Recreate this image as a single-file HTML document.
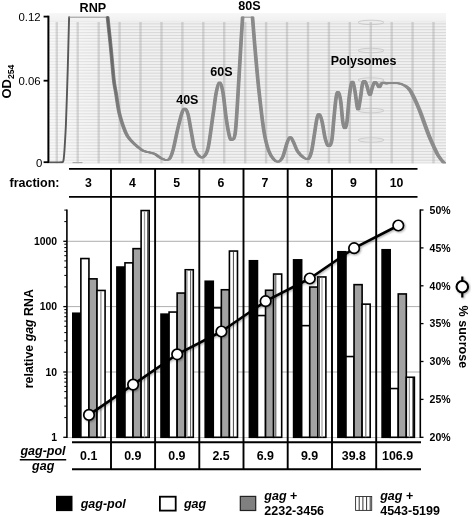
<!DOCTYPE html>
<html><head><meta charset="utf-8"><title>Polysome profile</title>
<style>html,body{margin:0;padding:0;background:#fff}svg{display:block}text{font-family:"Liberation Sans",Arial,Helvetica,sans-serif}</style>
</head><body>
<svg width="472" height="517" viewBox="0 0 472 517">
<defs>
<linearGradient id="topfade" x1="0" y1="0" x2="0" y2="1"><stop offset="0" stop-color="#f7f7f7"/><stop offset="0.8" stop-color="#f1f1f1"/><stop offset="1" stop-color="#e6e6e6"/></linearGradient>
<filter id="sh" x="-20%" y="-20%" width="140%" height="140%"><feGaussianBlur in="SourceAlpha" stdDeviation="1"/><feOffset dx="0.8" dy="1.2"/><feComponentTransfer><feFuncA type="linear" slope="0.35"/></feComponentTransfer><feMerge><feMergeNode/><feMergeNode in="SourceGraphic"/></feMerge></filter>
<linearGradient id="dk" gradientUnits="userSpaceOnUse" x1="0" y1="17" x2="0" y2="135"><stop offset="0" stop-color="#555" stop-opacity="0.75"/><stop offset="0.6" stop-color="#555" stop-opacity="0.45"/><stop offset="1" stop-color="#555" stop-opacity="0"/></linearGradient>
<linearGradient id="lf" x1="0" y1="0" x2="1" y2="0"><stop offset="0" stop-color="#fff" stop-opacity="0.45"/><stop offset="1" stop-color="#fff" stop-opacity="0"/></linearGradient>
<filter id="bl"><feGaussianBlur stdDeviation="0.5"/></filter><filter id="bl2"><feGaussianBlur stdDeviation="0.55 0"/></filter>
<clipPath id="pc"><rect x="49.3" y="13.0" width="396.7" height="150.6"/></clipPath>
</defs>
<rect width="472" height="517" fill="#fff"/>
<g clip-path="url(#pc)">
<rect x="49.3" y="13.0" width="396.7" height="150.6" fill="#f1f1f1"/>
<g fill="#d9d9d9">
<rect x="49.3" y="162.53" width="396.7" height="1.1"/>
<rect x="49.3" y="159.63" width="396.7" height="1.1"/>
<rect x="49.3" y="156.73" width="396.7" height="1.1"/>
<rect x="49.3" y="153.83" width="396.7" height="1.1"/>
<rect x="49.3" y="150.93" width="396.7" height="1.1"/>
<rect x="49.3" y="148.03" width="396.7" height="1.1"/>
<rect x="49.3" y="145.13" width="396.7" height="1.1"/>
<rect x="49.3" y="142.23" width="396.7" height="1.1"/>
<rect x="49.3" y="139.33" width="396.7" height="1.1"/>
<rect x="49.3" y="136.43" width="396.7" height="1.1"/>
<rect x="49.3" y="133.53" width="396.7" height="1.1"/>
<rect x="49.3" y="130.63" width="396.7" height="1.1"/>
<rect x="49.3" y="127.73" width="396.7" height="1.1"/>
<rect x="49.3" y="124.83" width="396.7" height="1.1"/>
<rect x="49.3" y="121.93" width="396.7" height="1.1"/>
<rect x="49.3" y="119.03" width="396.7" height="1.1"/>
<rect x="49.3" y="116.13" width="396.7" height="1.1"/>
<rect x="49.3" y="113.23" width="396.7" height="1.1"/>
<rect x="49.3" y="110.33" width="396.7" height="1.1"/>
<rect x="49.3" y="107.43" width="396.7" height="1.1"/>
<rect x="49.3" y="104.53" width="396.7" height="1.1"/>
<rect x="49.3" y="101.63" width="396.7" height="1.1"/>
<rect x="49.3" y="98.73" width="396.7" height="1.1"/>
<rect x="49.3" y="95.83" width="396.7" height="1.1"/>
<rect x="49.3" y="92.93" width="396.7" height="1.1"/>
<rect x="49.3" y="90.03" width="396.7" height="1.1"/>
<rect x="49.3" y="87.13" width="396.7" height="1.1"/>
<rect x="49.3" y="84.23" width="396.7" height="1.1"/>
<rect x="49.3" y="81.33" width="396.7" height="1.1"/>
<rect x="49.3" y="78.43" width="396.7" height="1.1"/>
<rect x="49.3" y="75.53" width="396.7" height="1.1"/>
<rect x="49.3" y="72.63" width="396.7" height="1.1"/>
<rect x="49.3" y="69.73" width="396.7" height="1.1"/>
<rect x="49.3" y="66.83" width="396.7" height="1.1"/>
<rect x="49.3" y="63.93" width="396.7" height="1.1"/>
<rect x="49.3" y="61.03" width="396.7" height="1.1"/>
<rect x="49.3" y="58.13" width="396.7" height="1.1"/>
<rect x="49.3" y="55.23" width="396.7" height="1.1"/>
<rect x="49.3" y="52.33" width="396.7" height="1.1"/>
<rect x="49.3" y="49.43" width="396.7" height="1.1"/>
<rect x="49.3" y="46.53" width="396.7" height="1.1"/>
<rect x="49.3" y="43.63" width="396.7" height="1.1"/>
<rect x="49.3" y="40.73" width="396.7" height="1.1"/>
<rect x="49.3" y="37.83" width="396.7" height="1.1"/>
<rect x="49.3" y="34.93" width="396.7" height="1.1"/>
<rect x="49.3" y="32.03" width="396.7" height="1.1"/>
<rect x="49.3" y="29.13" width="396.7" height="1.1"/>
<rect x="49.3" y="26.23" width="396.7" height="1.1"/>
<rect x="49.3" y="23.33" width="396.7" height="1.1"/>
<rect x="49.3" y="20.43" width="396.7" height="1.1"/>
</g>
<rect x="49.3" y="13.0" width="396.7" height="9.3" fill="url(#topfade)"/>
<rect x="49.3" y="22" width="75" height="141.6" fill="url(#lf)"/>
<g filter="url(#bl2)">
<rect x="55.6" y="22" width="2.4" height="141.6" fill="#a0a0a0" opacity="0.38"/>
<rect x="76.5" y="22" width="2.4" height="141.6" fill="#a0a0a0" opacity="0.38"/>
<rect x="97.5" y="22" width="2.4" height="141.6" fill="#a0a0a0" opacity="0.38"/>
<rect x="118.4" y="22" width="2.4" height="141.6" fill="#a0a0a0" opacity="0.38"/>
<rect x="139.3" y="22" width="2.4" height="141.6" fill="#a0a0a0" opacity="0.38"/>
<rect x="160.3" y="22" width="2.4" height="141.6" fill="#a0a0a0" opacity="0.38"/>
<rect x="181.2" y="22" width="2.4" height="141.6" fill="#a0a0a0" opacity="0.38"/>
<rect x="202.1" y="22" width="2.4" height="141.6" fill="#a0a0a0" opacity="0.38"/>
<rect x="223.0" y="22" width="2.4" height="141.6" fill="#a0a0a0" opacity="0.38"/>
<rect x="244.0" y="22" width="2.4" height="141.6" fill="#a0a0a0" opacity="0.38"/>
<rect x="264.9" y="22" width="2.4" height="141.6" fill="#a0a0a0" opacity="0.38"/>
<rect x="285.8" y="22" width="2.4" height="141.6" fill="#a0a0a0" opacity="0.38"/>
<rect x="306.8" y="22" width="2.4" height="141.6" fill="#a0a0a0" opacity="0.38"/>
<rect x="327.7" y="22" width="2.4" height="141.6" fill="#a0a0a0" opacity="0.38"/>
<rect x="348.6" y="22" width="2.4" height="141.6" fill="#a0a0a0" opacity="0.38"/>
<rect x="369.6" y="22" width="2.4" height="141.6" fill="#a0a0a0" opacity="0.38"/>
<rect x="390.5" y="22" width="2.4" height="141.6" fill="#a0a0a0" opacity="0.38"/>
<rect x="411.4" y="22" width="2.4" height="141.6" fill="#a0a0a0" opacity="0.38"/>
<rect x="432.3" y="22" width="2.4" height="141.6" fill="#a0a0a0" opacity="0.38"/>
</g>
<ellipse cx="371" cy="22.4" rx="13" ry="2.2" fill="none" stroke="#c4c4c4" stroke-width="0.8"/>
<ellipse cx="371" cy="50.5" rx="13" ry="2.2" fill="none" stroke="#c4c4c4" stroke-width="0.8"/>
<ellipse cx="371" cy="80.0" rx="13" ry="2.2" fill="none" stroke="#c4c4c4" stroke-width="0.8"/>
<ellipse cx="371" cy="110.6" rx="13" ry="2.2" fill="none" stroke="#c4c4c4" stroke-width="0.8"/>
<ellipse cx="371" cy="140.0" rx="13" ry="2.2" fill="none" stroke="#c4c4c4" stroke-width="0.8"/>
<g fill="none" stroke-linejoin="round" stroke-linecap="round" filter="url(#bl)">
<path d="M49.5 162.4 C50.6 162.4 54.0 162.4 56.0 162.4 C58.0 162.4 60.6 162.5 61.8 162.3 C63.0 162.1 62.9 162.3 63.2 161.4 C63.6 160.5 63.6 159.7 63.9 157.0 C64.2 154.3 64.5 150.3 64.8 145.0 C65.1 139.7 65.5 134.2 65.9 125.0 C66.3 115.8 66.7 102.2 67.1 90.0 C67.5 77.8 67.9 64.1 68.2 52.0 C68.5 39.9 68.9 23.0 69.1 17.2" stroke="#585858" stroke-width="1.9"/>
<path d="M69.1 17.2 L107.6 17.2" stroke="#8a8a8a" stroke-width="0.9"/>
<path d="M73 162.7 H82" stroke="#a8a8a8" stroke-width="1.2"/>
<path id="t2" d="M107.6 17.2 C107.9 20.2 108.8 28.7 109.5 35.0 C110.2 41.3 110.8 47.5 111.5 55.0 C112.2 62.5 113.1 73.7 113.8 80.0 C114.5 86.3 115.0 87.4 115.9 92.7 C116.8 98.0 117.8 106.2 119.0 111.8 C120.2 117.4 121.9 122.5 123.3 126.6 C124.7 130.7 125.7 133.3 127.5 136.1 C129.3 138.9 131.4 141.2 133.9 143.6 C136.4 146.0 139.8 148.8 142.4 150.3 C145.1 151.8 147.7 151.8 149.8 152.5 C151.9 153.2 153.2 153.2 155.1 154.2 C157.0 155.2 159.5 157.4 161.4 158.4 C163.3 159.4 165.3 160.1 166.7 160.1 C168.1 160.1 168.8 160.1 169.9 158.4 C171.0 156.7 171.9 154.5 173.1 149.9 C174.3 145.3 175.9 136.8 177.3 130.8 C178.7 124.8 180.4 117.6 181.6 113.9 C182.8 110.2 183.6 108.6 184.7 108.6 C185.8 108.6 186.8 110.2 187.9 113.9 C189.0 117.6 190.0 125.2 191.1 130.8 C192.2 136.5 193.1 143.7 194.3 147.8 C195.6 151.9 197.1 154.0 198.6 155.6 C200.1 157.2 201.6 158.5 203.2 157.2 C204.8 155.9 206.5 155.0 208.1 148.0 C209.7 141.0 211.6 124.4 213.0 115.1 C214.4 105.8 215.2 97.6 216.3 92.1 C217.4 86.6 218.5 82.2 219.6 82.2 C220.7 82.2 221.8 86.1 222.9 92.1 C224.0 98.1 225.1 111.0 226.2 118.4 C227.3 125.8 228.5 132.9 229.5 136.5 C230.5 140.1 231.1 140.6 232.1 139.8 C233.1 139.0 234.3 141.2 235.4 131.6 C236.5 122.0 237.8 97.0 238.7 82.2 C239.6 67.4 240.3 53.6 241.0 42.8 C241.7 32.0 242.3 21.5 242.6 17.2"/>
<path id="t3" d="M252.5 17.2 C252.9 22.5 254.0 36.8 255.1 49.3 C256.2 61.8 257.6 78.4 259.1 92.1 C260.6 105.8 262.4 121.7 264.0 131.6 C265.6 141.5 267.2 146.7 268.9 151.3 C270.5 156.0 272.3 157.8 273.9 159.5 C275.5 161.2 277.1 162.1 278.6 161.7 C280.1 161.2 281.4 159.9 282.8 156.8 C284.2 153.7 285.8 146.3 287.0 143.0 C288.2 139.7 289.1 137.2 290.2 137.0 C291.3 136.8 292.1 139.5 293.4 141.9 C294.6 144.3 295.9 148.8 297.7 151.5 C299.5 154.2 302.2 156.7 304.0 157.9 C305.8 159.1 307.1 160.0 308.3 158.9 C309.6 157.8 310.4 155.9 311.5 151.5 C312.6 147.1 313.8 138.0 314.7 132.3 C315.6 126.6 316.4 120.4 317.2 117.4 C318.0 114.4 318.6 113.6 319.4 114.3 C320.2 115.0 321.1 117.6 322.1 121.7 C323.1 125.8 324.2 134.6 325.3 138.7 C326.4 142.8 327.4 145.8 328.5 146.2 C329.6 146.6 330.8 145.3 331.7 140.9 C332.6 136.5 333.1 126.7 333.8 119.6 C334.5 112.5 335.3 102.9 336.0 98.3 C336.7 93.7 337.3 91.6 338.1 91.9 C338.9 92.2 339.8 95.4 340.6 100.4 C341.4 105.4 342.1 117.0 342.8 121.7 C343.5 126.4 344.2 128.5 344.9 128.5 C345.6 128.5 346.3 126.7 347.0 121.7 C347.7 116.7 348.4 104.6 349.1 98.3 C349.8 92.0 350.7 86.5 351.3 83.8 C351.9 81.1 352.4 80.9 353.0 82.3 C353.6 83.7 354.4 87.8 355.1 91.9 C355.8 96.0 356.6 104.0 357.2 106.8 C357.8 109.6 358.0 110.3 358.5 108.9 C359.0 107.5 359.7 102.5 360.4 98.3 C361.1 94.0 361.9 86.3 362.6 83.4 C363.3 80.5 364.0 80.6 364.7 80.9 C365.4 81.2 365.9 83.1 366.8 85.5 C367.7 87.9 368.9 94.8 369.8 95.1 C370.7 95.4 371.5 89.6 372.3 87.4 C373.1 85.2 374.0 82.3 374.8 81.8 C375.6 81.3 376.4 83.4 377.2 84.3 C378.0 85.2 378.7 87.6 379.4 87.4 C380.1 87.2 380.8 84.1 381.6 83.3 C382.4 82.5 383.2 82.4 384.0 82.4 C384.8 82.5 385.7 83.5 386.5 83.6 C387.3 83.7 387.6 83.1 388.7 83.0 C389.8 82.9 391.5 82.9 393.3 83.0 C395.1 83.1 397.4 83.1 399.5 83.6 C401.6 84.1 403.9 85.0 405.7 86.2 C407.5 87.4 408.8 88.5 410.4 90.8 C411.9 93.1 413.4 96.5 415.0 99.8 C416.6 103.1 418.1 106.7 419.7 110.6 C421.2 114.5 422.8 118.9 424.3 123.0 C425.8 127.1 427.3 131.5 428.9 135.4 C430.4 139.3 432.1 142.8 433.6 146.2 C435.2 149.5 436.6 152.9 438.2 155.5 C439.8 158.1 441.7 160.3 442.9 161.7 C444.1 163.1 445.0 163.5 445.4 163.9"/>
<clipPath id="cA"><rect x="100" y="10" width="62" height="160"/></clipPath>
<clipPath id="cB"><rect x="162" y="10" width="241" height="160"/></clipPath>
<clipPath id="cC"><rect x="403" y="10" width="50" height="160"/></clipPath>
<g stroke="#878787" stroke-width="1.45" clip-path="url(#cA)">
<use href="#t2" x="-1.2"/>
<use href="#t2" x="-0.6"/>
<use href="#t2" x="0.0"/>
<use href="#t2" x="0.6"/>
<use href="#t2" x="1.2"/>
</g>
<g stroke="#8a8a8a" stroke-width="1.5" clip-path="url(#cB)">
<use href="#t2" x="-1.10"/><use href="#t3" x="-1.10"/>
<use href="#t2" x="-0.55"/><use href="#t3" x="-0.55"/>
<use href="#t2" x="0.00"/><use href="#t3" x="0.00"/>
<use href="#t2" x="0.55"/><use href="#t3" x="0.55"/>
<use href="#t2" x="1.10"/><use href="#t3" x="1.10"/>
</g>
<g stroke="#8c8c8c" stroke-width="1.4" clip-path="url(#cC)">
<use href="#t3" x="-1.40"/>
<use href="#t3" x="-0.70"/>
<use href="#t3" x="0.00"/>
<use href="#t3" x="0.70"/>
<use href="#t3" x="1.40"/>
</g>
<path d="M242.6 17.2 L252.5 17.2" stroke="#8a8a8a" stroke-width="1"/>
<path d="M107.6 17.2 C107.9 20.2 108.8 28.7 109.5 35.0 C110.2 41.3 110.8 47.5 111.5 55.0 C112.2 62.5 113.1 73.7 113.8 80.0 C114.5 86.3 115.0 87.4 115.9 92.7 C116.8 98.0 117.8 106.2 119.0 111.8 C120.2 117.4 121.9 122.5 123.3 126.6 C124.7 130.7 125.7 133.3 127.5 136.1 C129.3 138.9 132.8 142.3 133.9 143.6" stroke="url(#dk)" stroke-width="2.6"/>
</g>
</g>
<g stroke="#000" stroke-width="2" fill="none">
<path d="M48.4 15.7 V163.1"/>
<path d="M43.6 16.6 H48.4" stroke-width="1.8"/>
<path d="M43.6 80.7 H48.4" stroke-width="1.8"/>
<path d="M43.6 162.2 H48.4" stroke-width="1.8"/>
</g>
<g font-size="11.4" text-anchor="end" fill="#000">
<text x="40.6" y="21.3">0.12</text>
<text x="40.6" y="85.4">0.06</text>
<text x="42.4" y="166.7">0</text>
</g>
<text transform="translate(10.6,98.6) rotate(-90)" font-size="13" font-weight="bold">OD<tspan font-size="8.7" dy="3">254</tspan></text>
<g font-size="12.5" font-weight="bold" fill="#000">
<text x="79.6" y="11.7" font-size="12.6">RNP</text>
<text x="238.2" y="10.2" font-size="12.6">80S</text>
<text x="176.2" y="103.5">40S</text>
<text x="210.3" y="76.4">60S</text>
<text x="330.7" y="64.8" font-size="12.45">Polysomes</text>
</g>
<g stroke="#000" stroke-width="1.8" fill="none">
<path d="M69 168.9 H417.5"/>
<path d="M69 196.9 H417.5"/>
</g>
<text x="9.5" y="187.4" font-size="12.5" font-weight="bold">fraction:</text>
<g font-size="12.3" font-weight="bold" text-anchor="middle">
<text x="88.4" y="187.2">3</text>
<text x="132.5" y="187.2">4</text>
<text x="176.6" y="187.2">5</text>
<text x="220.8" y="187.2">6</text>
<text x="265.0" y="187.2">7</text>
<text x="309.2" y="187.2">8</text>
<text x="353.5" y="187.2">9</text>
<text x="396.5" y="187.2">10</text>
</g>
<g stroke="#9a9a9a" stroke-width="0.8">
<path d="M66.9 372.0 H420.3"/>
<path d="M66.9 306.6 H420.3"/>
<path d="M66.9 241.3 H420.3"/>
<path d="M66.9 437.5 H420.3" stroke="#b0b0b0"/>
</g>
<g stroke="#000" stroke-width="1.6">
<rect x="72.80" y="313.25" width="8.07" height="124.05" fill="#000"/>
<rect x="80.87" y="258.55" width="8.07" height="178.75" fill="#fff"/>
<rect x="88.94" y="278.85" width="8.07" height="158.45" fill="#a2a2a2"/>
<rect x="97.01" y="290.45" width="8.07" height="146.85" fill="#fff"/>
<path d="M100.91 291.25 V437.30" stroke="#888" stroke-width="1.2"/>
<rect x="116.90" y="267.05" width="8.07" height="170.25" fill="#000"/>
<rect x="124.97" y="262.85" width="8.07" height="174.45" fill="#fff"/>
<rect x="133.04" y="248.65" width="8.07" height="188.65" fill="#a2a2a2"/>
<rect x="141.11" y="210.55" width="8.07" height="226.75" fill="#fff"/>
<path d="M144.51 211.35 V437.30" stroke="#999" stroke-width="1.3"/>
<path d="M147.96 211.35 V437.30" stroke="#3a3a3a" stroke-width="1.5"/>
<rect x="161.00" y="314.15" width="8.07" height="123.15" fill="#000"/>
<rect x="169.07" y="312.05" width="8.07" height="125.25" fill="#fff"/>
<rect x="177.14" y="293.05" width="8.07" height="144.25" fill="#a2a2a2"/>
<rect x="185.21" y="269.75" width="8.07" height="167.55" fill="#fff"/>
<path d="M186.81 270.55 V437.30" stroke="#999" stroke-width="1.6"/>
<path d="M190.61 270.55 V437.30" stroke="#444" stroke-width="0.9"/>
<rect x="205.20" y="281.25" width="8.07" height="156.05" fill="#000"/>
<rect x="213.27" y="307.85" width="8.07" height="129.45" fill="#fff"/>
<rect x="221.34" y="289.75" width="8.07" height="147.55" fill="#a2a2a2"/>
<rect x="229.41" y="251.05" width="8.07" height="186.25" fill="#fff"/>
<path d="M233.41 251.85 V437.30" stroke="#333" stroke-width="0.9"/>
<rect x="249.40" y="260.75" width="8.07" height="176.55" fill="#000"/>
<rect x="257.47" y="315.55" width="8.07" height="121.75" fill="#fff"/>
<rect x="265.54" y="290.25" width="8.07" height="147.05" fill="#a2a2a2"/>
<rect x="273.61" y="274.05" width="8.07" height="163.25" fill="#fff"/>
<path d="M275.81 274.85 V437.30" stroke="#333" stroke-width="0.9"/>
<rect x="293.60" y="259.85" width="8.07" height="177.45" fill="#000"/>
<rect x="301.67" y="325.65" width="8.07" height="111.65" fill="#fff"/>
<rect x="309.74" y="287.05" width="8.07" height="150.25" fill="#a2a2a2"/>
<rect x="317.81" y="276.95" width="8.07" height="160.35" fill="#fff"/>
<path d="M319.21 277.75 V437.30" stroke="#555" stroke-width="1.5"/>
<path d="M322.01 277.75 V437.30" stroke="#aaa" stroke-width="1.3"/>
<rect x="337.90" y="251.75" width="8.07" height="185.55" fill="#000"/>
<rect x="345.97" y="356.55" width="8.07" height="80.75" fill="#fff"/>
<rect x="354.04" y="284.65" width="8.07" height="152.65" fill="#a2a2a2"/>
<rect x="362.11" y="304.15" width="8.07" height="133.15" fill="#fff"/>
<path d="M365.81 304.95 V437.30" stroke="#777" stroke-width="1.2"/>
<rect x="382.10" y="249.75" width="8.07" height="187.55" fill="#000"/>
<rect x="390.17" y="388.55" width="8.07" height="48.75" fill="#fff"/>
<rect x="398.24" y="293.95" width="8.07" height="143.35" fill="#a2a2a2"/>
<rect x="406.31" y="377.25" width="8.07" height="60.05" fill="#fff"/>
<path d="M409.31 378.05 V437.30" stroke="#999" stroke-width="1.2"/>
<path d="M413.21 378.05 V437.30" stroke="#111" stroke-width="1.5"/>
</g>
<g stroke="#000" stroke-width="1.9" fill="none">
<path d="M111.0 168 V470"/>
<path d="M155.1 168 V470"/>
<path d="M199.3 168 V470"/>
<path d="M243.5 168 V470"/>
<path d="M287.7 168 V470"/>
<path d="M332.0 168 V470"/>
<path d="M376.2 168 V470"/>
</g>
<g stroke="#000" fill="none">
<path d="M66.9 209.4 V438.0" stroke-width="1.6"/>
<path d="M63.3 437.3 H66.9" stroke-width="1.3"/>
<path d="M64.3 417.6 H66.9" stroke-width="1"/>
<path d="M64.3 406.1 H66.9" stroke-width="1"/>
<path d="M64.3 398.0 H66.9" stroke-width="1"/>
<path d="M64.3 391.6 H66.9" stroke-width="1"/>
<path d="M64.3 386.4 H66.9" stroke-width="1"/>
<path d="M64.3 382.1 H66.9" stroke-width="1"/>
<path d="M64.3 378.3 H66.9" stroke-width="1"/>
<path d="M64.3 374.9 H66.9" stroke-width="1"/>
<path d="M63.3 372.0 H66.9" stroke-width="1.3"/>
<path d="M64.3 352.3 H66.9" stroke-width="1"/>
<path d="M64.3 340.8 H66.9" stroke-width="1"/>
<path d="M64.3 332.6 H66.9" stroke-width="1"/>
<path d="M64.3 326.3 H66.9" stroke-width="1"/>
<path d="M64.3 321.1 H66.9" stroke-width="1"/>
<path d="M64.3 316.7 H66.9" stroke-width="1"/>
<path d="M64.3 312.9 H66.9" stroke-width="1"/>
<path d="M64.3 309.6 H66.9" stroke-width="1"/>
<path d="M63.3 306.6 H66.9" stroke-width="1.3"/>
<path d="M64.3 286.9 H66.9" stroke-width="1"/>
<path d="M64.3 275.4 H66.9" stroke-width="1"/>
<path d="M64.3 267.3 H66.9" stroke-width="1"/>
<path d="M64.3 260.9 H66.9" stroke-width="1"/>
<path d="M64.3 255.7 H66.9" stroke-width="1"/>
<path d="M64.3 251.4 H66.9" stroke-width="1"/>
<path d="M64.3 247.6 H66.9" stroke-width="1"/>
<path d="M64.3 244.2 H66.9" stroke-width="1"/>
<path d="M63.3 241.3 H66.9" stroke-width="1.3"/>
<path d="M64.3 221.6 H66.9" stroke-width="1"/>
<path d="M64.3 210.1 H66.9" stroke-width="1"/>
</g>
<g font-size="10.4" font-weight="bold" text-anchor="end">
<text x="57" y="441.0">1</text>
<text x="57" y="375.7">10</text>
<text x="57" y="310.3">100</text>
<text x="57" y="245.0">1000</text>
</g>
<text transform="translate(33.2,388.2) rotate(-90)" font-size="12.4" font-weight="bold">relative <tspan font-style="italic">gag</tspan> RNA</text>
<g stroke="#000" fill="none">
<path d="M420.3 209.4 V438.0" stroke-width="1.6"/>
<path d="M420.3 437.3 H423.5" stroke-width="1.3"/>
<path d="M420.3 399.4 H423.5" stroke-width="1.3"/>
<path d="M420.3 361.5 H423.5" stroke-width="1.3"/>
<path d="M420.3 323.6 H423.5" stroke-width="1.3"/>
<path d="M420.3 285.8 H423.5" stroke-width="1.3"/>
<path d="M420.3 247.9 H423.5" stroke-width="1.3"/>
<path d="M420.3 210.0 H423.5" stroke-width="1.3"/>
</g>
<g font-size="10.5" font-weight="bold">
<text x="429.6" y="441.0">20%</text>
<text x="429.6" y="403.1">25%</text>
<text x="429.6" y="365.2">30%</text>
<text x="429.6" y="327.3">35%</text>
<text x="429.6" y="289.5">40%</text>
<text x="429.6" y="251.6">45%</text>
<text x="429.6" y="213.7">50%</text>
</g>
<g filter="url(#sh)">
<path d="M89.0 414.9 L133.1 384.6 L177.2 354.3 L221.4 331.5 L265.6 301.2 L309.8 278.5 L354.1 248.2 L398.3 225.5" stroke="#000" stroke-width="2.55" fill="none" stroke-linejoin="round"/>
<circle cx="89.0" cy="414.9" r="5.25" fill="#fff" stroke="#000" stroke-width="1.7"/>
<circle cx="133.1" cy="384.6" r="5.25" fill="#fff" stroke="#000" stroke-width="1.7"/>
<circle cx="177.2" cy="354.3" r="5.25" fill="#fff" stroke="#000" stroke-width="1.7"/>
<circle cx="221.4" cy="331.5" r="5.25" fill="#fff" stroke="#000" stroke-width="1.7"/>
<circle cx="265.6" cy="301.2" r="5.25" fill="#fff" stroke="#000" stroke-width="1.7"/>
<circle cx="309.8" cy="278.5" r="5.25" fill="#fff" stroke="#000" stroke-width="1.7"/>
<circle cx="354.1" cy="248.2" r="5.25" fill="#fff" stroke="#000" stroke-width="1.7"/>
<circle cx="398.3" cy="225.5" r="5.25" fill="#fff" stroke="#000" stroke-width="1.7"/>
</g>
<g filter="url(#sh)">
<path d="M462.3 276.5 V297.5" stroke="#000" stroke-width="2.2"/>
<circle cx="462.3" cy="286.8" r="5.75" fill="#fff" stroke="#000" stroke-width="2.1"/>
</g>
<text transform="translate(458.9,305.6) rotate(90)" font-size="12.5" font-weight="bold">% sucrose</text>
<g stroke="#000" stroke-width="2" fill="none">
<path d="M72 442.2 H421"/>
<path d="M72 469.2 H421"/>
</g>
<g font-size="12.4" font-weight="bold" text-anchor="middle">
<text x="88.7" y="460.2">0.1</text>
<text x="132.8" y="460.2">0.9</text>
<text x="176.9" y="460.2">0.9</text>
<text x="221.1" y="460.2">2.5</text>
<text x="265.3" y="460.2">6.9</text>
<text x="309.6" y="460.2">9.9</text>
<text x="353.8" y="460.2">39.8</text>
<text x="397.6" y="460.2">106.9</text>
</g>
<g font-size="12.5" font-weight="bold" font-style="italic" text-anchor="middle">
<text x="43" y="455">gag-pol</text>
<text x="43.2" y="470.4">gag</text>
</g>
<path d="M19.8 459.7 H66.2" stroke="#000" stroke-width="1.5"/>
<rect x="56" y="495.8" width="16.5" height="15.3" fill="#000"/>
<rect x="159.9" y="496.7" width="15.8" height="13.9" fill="#fff" stroke="#000" stroke-width="1.8"/>
<rect x="240.3" y="496.4" width="15.4" height="14.1" fill="#808080" stroke="#222" stroke-width="1.2"/>
<rect x="355.6" y="496.5" width="16.1" height="13.9" fill="#fff" stroke="#2a2a2a" stroke-width="0.9"/>
<path d="M359.2 496.5 V510.4" stroke="#333" stroke-width="1"/>
<path d="M362.9 496.5 V510.4" stroke="#333" stroke-width="1"/>
<path d="M366.6 496.5 V510.4" stroke="#333" stroke-width="1"/>
<path d="M370.2 496.5 V510.4" stroke="#333" stroke-width="1"/>
<g font-size="12.5" font-weight="bold">
<text x="80.7" y="508" font-style="italic">gag-pol</text>
<text x="183.9" y="508" font-style="italic">gag</text>
<text x="264.3" y="500.4"><tspan font-style="italic">gag</tspan> +</text>
<text x="264.3" y="515">2232-3456</text>
<text x="380.2" y="500.4"><tspan font-style="italic">gag</tspan> +</text>
<text x="380.2" y="515">4543-5199</text>
</g>
</svg></body></html>
